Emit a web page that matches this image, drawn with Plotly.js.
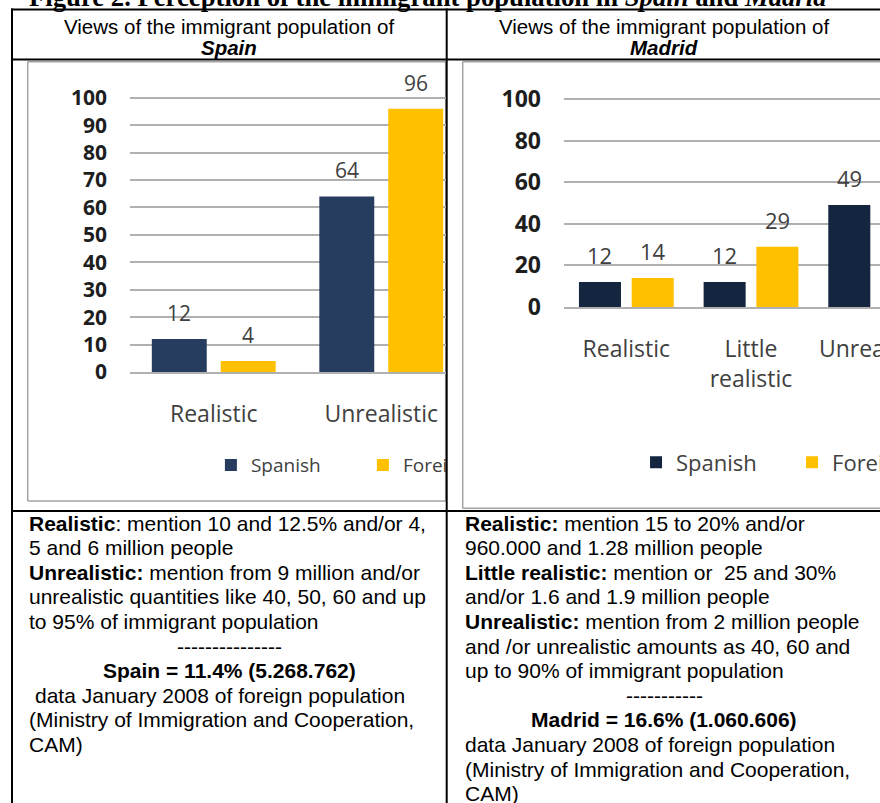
<!DOCTYPE html>
<html><head><meta charset="utf-8">
<script src="https://cdn.plot.ly/plotly-3.0.1.min.js"></script>
<style>
html,body{margin:0;padding:0;overflow:hidden;background:#fff;width:880px;height:803px;}
#page{position:absolute;left:0;top:0;width:880px;height:803px;}
.clip{position:absolute;overflow:hidden;}
</style></head><body>
<div id="page"></div>
<div id="spainClip" class="clip"><div id="spain"></div></div>
<div id="madridClip" class="clip"><div id="madrid"></div></div>
<script>
// ---------------- data ----------------
const seriesNames = ['Spanish', 'Foreign'];
const spainCategories = ['Realistic', 'Unrealistic'];
const spainSpanish = [12, 64];
const spainForeign = [4, 96];
const spainTicks = [0, 10, 20, 30, 40, 50, 60, 70, 80, 90, 100];
const madridCategories = ['Realistic', 'Little realistic', 'Unrealistic'];
const madridTickLabels = ['Realistic', 'Little<br>realistic', 'Unrealistic'];
const madridSpanish = [12, 12, 49];
const madridForeign = [14, 29, 53];
const madridTicks = [0, 20, 40, 60, 80, 100];

// ---------------- table texts ----------------
const titleText = '<b>Figure 2. Perception of the immigrant population in <i>Spain</i> and <i>Madrid</i></b>';
const headerLine = 'Views of the immigrant population of';
const headerPlaces = ['Spain', 'Madrid'];
const leftNotes = [
  ['<b>Realistic</b>: mention 10 and 12.5% and/or 4,', 'l'],
  ['5 and 6 million people', 'l'],
  ['<b>Unrealistic:</b> mention from 9 million and/or', 'l'],
  ['unrealistic quantities like 40, 50, 60 and up', 'l'],
  ['to 95% of immigrant population', 'l'],
  ['---------------', 'c'],
  ['<b>Spain = 11.4% (5.268.762)</b>', 'c'],
  ['data January 2008 of foreign population', 'i'],
  ['(Ministry of Immigration and Cooperation,', 'l'],
  ['CAM)', 'l']
];
const rightNotes = [
  ['<b>Realistic:</b> mention 15 to 20% and/or', 'l'],
  ['960.000 and 1.28 million people', 'l'],
  ['<b>Little realistic:</b> mention or\u00a0 25 and 30%', 'l'],
  ['and/or 1.6 and 1.9 million people', 'l'],
  ['<b>Unrealistic:</b> mention from 2 million people', 'l'],
  ['and /or unrealistic amounts as 40, 60 and', 'l'],
  ['up to 90% of immigrant population', 'l'],
  ['-----------', 'c'],
  ['<b>Madrid = 16.6% (1.060.606)</b>', 'c'],
  ['data January 2008 of foreign population', 'l'],
  ['(Ministry of Immigration and Cooperation,', 'l'],
  ['CAM)', 'l']
];

// ---------------- styles ----------------
const FOREIGN = '#FFC000';
const GRID = '#B0B0B0';
const LABEL = '#404040';
const TICK = '#1E1E1E';
const FRAME = '#A3A3A3';
const CHART_FONT = 'Open Sans, Noto Sans, sans-serif';

// ---------------- page (table) ----------------
const PW = 880, PH = 803;
const X = p => p / PW, Y = p => 1 - p / PH;
const shapes = [];
function seg(x0, y0, x1, y1, color, w) {
  shapes.push({type: 'line', xref: 'paper', yref: 'paper', x0: X(x0), y0: Y(y0), x1: X(x1), y1: Y(y1), line: {color: color, width: w}});
}
// chart frames
seg(27.7, 61.7, 445.7, 61.7, FRAME, 1.5);
seg(27.7, 501, 445.7, 501, FRAME, 1.5);
seg(27.7, 61.7, 27.7, 501, FRAME, 1.5);
seg(445.7, 61.7, 445.7, 501, FRAME, 1.5);
seg(462.7, 61.7, 900, 61.7, FRAME, 1.5);
seg(462.7, 508.3, 900, 508.3, FRAME, 1.5);
seg(462.7, 61.7, 462.7, 508.3, FRAME, 1.5);
// table rules
seg(11, 9.5, 900, 9.5, '#000', 2);
seg(11, 59.5, 900, 59.5, '#000', 2);
seg(11, 511, 900, 511, '#000', 2);
seg(12, 8.5, 12, 810, '#000', 2);
seg(446.7, 8.5, 446.7, 810, '#000', 2);

const anns = [];
function note(text, x, y, anchor, font) {
  anns.push({xref: 'paper', yref: 'paper', x: X(x), y: Y(y), text: text, showarrow: false,
    xanchor: anchor, yanchor: 'middle', align: anchor === 'center' ? 'center' : 'left', font: font});
}
note(titleText, 27, -3, 'left', {family: 'Liberation Serif, Times New Roman, serif', size: 26.7, color: '#000'});
const headFont = {family: 'Liberation Sans, Arial, sans-serif', size: 20.5, color: '#000'};
note(headerLine, 229, 26, 'center', headFont);
note(headerLine, 664, 26, 'center', headFont);
note('<b><i>' + headerPlaces[0] + '</i></b>', 229, 47, 'center', headFont);
note('<b><i>' + headerPlaces[1] + '</i></b>', 664, 47, 'center', headFont);
const bodyFont = {family: 'Liberation Sans, Arial, sans-serif', size: 21, color: '#000'};
const LINE0 = 523, PITCH = 24.6;
leftNotes.forEach((n, i) => {
  const y = LINE0 + i * PITCH;
  if (n[1] === 'c') note(n[0], 229, y, 'center', bodyFont);
  else note(n[0], n[1] === 'i' ? 33 : 27, y, 'left', bodyFont);
});
rightNotes.forEach((n, i) => {
  const y = LINE0 + i * PITCH;
  if (n[1] === 'c') note(n[0], 664, y, 'center', bodyFont);
  else note(n[0], 463, y, 'left', bodyFont);
});

Plotly.newPlot('page', [], {
  width: PW, height: PH, margin: {l: 0, r: 0, t: 0, b: 0, pad: 0},
  paper_bgcolor: '#fff', plot_bgcolor: '#fff',
  xaxis: {visible: false, range: [0, 1]}, yaxis: {visible: false, range: [0, 1]},
  shapes: shapes, annotations: anns, showlegend: false
}, {staticPlot: true, displayModeBar: false});

// ---------------- charts ----------------
function drawChart(id, clipId, g) {
  const clip = document.getElementById(clipId);
  clip.style.left = g.clip[0] + 'px'; clip.style.top = g.clip[1] + 'px';
  clip.style.width = g.clip[2] + 'px'; clip.style.height = g.clip[3] + 'px';
  const o = g.clip, p = g.plot;
  const plotW = p.r - p.l, plotH = p.b - p.t;
  const traces = [
    {type: 'bar', name: seriesNames[0], x: g.cats, y: g.sp, marker: {color: g.spColor}, hoverinfo: 'skip'},
    {type: 'bar', name: seriesNames[1], x: g.cats, y: g.fo, marker: {color: FOREIGN}, hoverinfo: 'skip'}
  ];
  const off = (1 - g.bargap) / 4;
  const labels = [];
  [g.sp, g.fo].forEach((vals, si) => vals.forEach((v, ci) => {
    labels.push({xref: 'x', yref: 'y', x: ci + (si === 0 ? -off : off), y: v, yshift: g.labelShift,
      text: String(v), showarrow: false, xanchor: 'center', yanchor: 'middle',
      font: {family: CHART_FONT, size: g.labelSize, color: LABEL}});
  }));
  const layout = {
    width: g.width, height: o[3],
    margin: {l: p.l - o[0], r: o[0] + g.width - p.r, t: p.t - o[1], b: o[1] + o[3] - p.b, pad: 0, autoexpand: false},
    paper_bgcolor: 'rgba(0,0,0,0)', plot_bgcolor: 'rgba(0,0,0,0)',
    barmode: 'group', bargap: g.bargap, bargroupgap: g.bargroupgap,
    xaxis: {type: 'category', range: [-0.5, g.cats.length - 0.5], tickmode: 'array', tickvals: g.cats, ticktext: g.tickText,
      showline: true, linecolor: GRID, linewidth: 2, showgrid: false, zeroline: false, ticks: '',
      ticklabelstandoff: g.xStandoff, tickfont: {family: CHART_FONT, size: g.catSize, color: LABEL}, fixedrange: true},
    yaxis: {range: [0, 101], tickmode: 'array', tickvals: g.ticks, showgrid: true, gridcolor: GRID, gridwidth: 2,
      zeroline: false, showline: false, ticks: '', ticklabelstandoff: g.yStandoff,
      tickfont: {family: CHART_FONT, size: g.tickSize, color: TICK, weight: 700}, fixedrange: true},
    showlegend: true,
    legend: {orientation: 'h', xanchor: 'left', yanchor: 'middle',
      x: (g.legend[0] - 20 - p.l) / plotW, y: (p.b - g.legend[1]) / plotH,
      font: {family: CHART_FONT, size: g.legendSize, color: LABEL}, bgcolor: 'rgba(0,0,0,0)',
      borderwidth: 0, entrywidth: g.entry, entrywidthmode: 'pixels', traceorder: 'normal'},
    annotations: labels
  };
  Plotly.newPlot(id, traces, layout, {staticPlot: true, displayModeBar: false});
}

drawChart('spain', 'spainClip', {
  clip: [28, 62, 418, 439], width: 470,
  plot: {l: 130, r: 130 + 2 * 167.7, t: 372.3 - 101 * 2.75, b: 372.3},
  cats: spainCategories, tickText: spainCategories, sp: spainSpanish, fo: spainForeign, ticks: spainTicks,
  spColor: '#263D5F', bargap: 0.177, bargroupgap: 0.203,
  labelShift: 26, labelSize: 21, catSize: 23, tickSize: 21, legendSize: 19,
  xStandoff: 20, yStandoff: 22, legend: [231, 465.7], entry: 107
});
drawChart('madrid', 'madridClip', {
  clip: [463, 62, 417, 446], width: 520,
  plot: {l: 564, r: 564 + 3 * 124.6, t: 306.7 - 101 * 2.08, b: 306.7},
  cats: madridCategories, tickText: madridTickLabels, sp: madridSpanish, fo: madridForeign, ticks: madridTicks,
  spColor: '#13253F', bargap: 0.154, bargroupgap: 0.203,
  labelShift: 27, labelSize: 22, catSize: 23, tickSize: 23, legendSize: 22,
  xStandoff: 20, yStandoff: 22, legend: [656, 462.3], entry: 111
});
</script></body></html>
